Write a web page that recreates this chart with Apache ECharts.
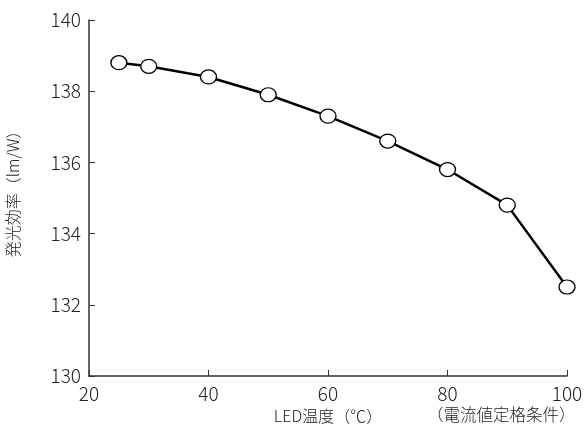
<!DOCTYPE html>
<html>
<head>
<meta charset="utf-8">
<script src="https://cdn.jsdelivr.net/npm/echarts@6/dist/echarts.min.js"></script>
<style>
  html, body { margin: 0; padding: 0; background: #fff; }
  #main { width: 588px; height: 435px; }
</style>
</head>
<body>
<div id="main"></div>
<script>
var temps = [25, 30, 40, 50, 60, 70, 80, 90, 100];
var efficiency = [138.8, 138.7, 138.4, 137.9, 137.3, 136.6, 135.8, 134.8, 132.5];
var xName = 'LED温度（℃）';
var yName = '発光効率（lm/W）';
var note = '（電流値定格条件）';

var font = '"Noto Sans CJK JP", "Noto Sans", sans-serif';
var myChart = echarts.init(document.getElementById('main'));

var points = [];
for (var i = 0; i < temps.length; i++) {
    points.push([temps[i], efficiency[i]]);
}

var option = {
    animation: false,
    grid: { left: 89, right: 21, top: 20, bottom: 59, outerBoundsMode: 'none' },
    xAxis: {
        type: 'value',
        min: 20, max: 100, interval: 20,
        name: xName,
        nameLocation: 'middle',
        nameGap: 27,
        nameTextStyle: { fontFamily: font, fontSize: 16, fontWeight: 300, color: '#222', verticalAlign: 'top' },
        axisLine: { lineStyle: { color: '#333', width: 1.5 } },
        axisTick: { inside: true, length: 6, lineStyle: { color: '#333' } },
        axisLabel: { fontFamily: font, fontSize: 19, fontWeight: 300, color: '#222', margin: 8 },
        splitLine: { show: false }
    },
    yAxis: {
        type: 'value',
        min: 130, max: 140, interval: 2,
        name: yName,
        nameLocation: 'middle',
        nameRotate: 90,
        nameGap: 68,
        nameTextStyle: { fontFamily: font, fontSize: 16, fontWeight: 300, color: '#222', padding: [0, 0, 0, 16] },
        axisLine: { show: true, lineStyle: { color: '#333', width: 1.5 } },
        axisTick: { show: true, inside: true, length: 6, lineStyle: { color: '#333' } },
        axisLabel: { fontFamily: font, fontSize: 19, fontWeight: 300, color: '#222', margin: 8 },
        splitLine: { show: false }
    },
    series: [{
        type: 'line',
        data: points,
        symbol: 'circle',
        symbolSize: [16, 14],
        itemStyle: { color: '#fff', borderColor: '#000', borderWidth: 1.3 },
        lineStyle: { color: '#000', width: 2.5 }
    }],
    graphic: [{
        type: 'text',
        left: 427,
        top: 406,
        style: { text: note, font: '300 16.5px ' + font, fill: '#222' }
    }]
};

myChart.setOption(option);
</script>
</body>
</html>
